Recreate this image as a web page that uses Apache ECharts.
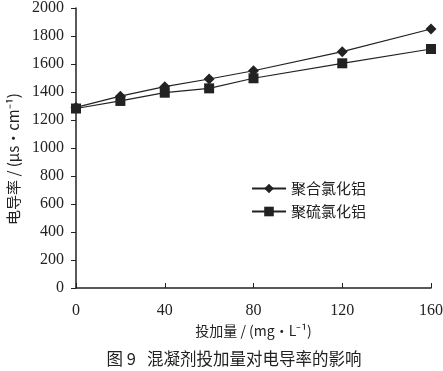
<!DOCTYPE html>
<html><head><meta charset="utf-8">
<script src="https://cdn.jsdelivr.net/npm/echarts@6/dist/echarts.min.js"></script>
<style>html,body{margin:0;padding:0;background:#fff}#c{width:443px;height:371px}</style>
</head><body><div id="c"></div>
<script>
var dosage = [0, 20, 40, 60, 80, 120, 160];
var pac = [1290, 1370, 1438, 1493, 1552, 1688, 1850];
var pfs = [1282, 1336, 1395, 1426, 1498, 1605, 1707];
var names = ['聚合氯化铝', '聚硫氯化铝'];
var chart = echarts.init(document.getElementById('c'));
var serif = 'Liberation Serif';
var cjk = 'Noto Sans CJK SC';
chart.setOption({
  animation: false,
  backgroundColor: '#fff',
  grid: {left: 76, right: 12, top: 8, bottom: 83, outerBoundsMode: 'none', containLabel: false},
  title: {text: '图 9   混凝剂投加量对电导率的影响', left: 229, textAlign: 'center', top: 345,
    textStyle: {fontFamily: cjk, fontSize: 16.5, fontWeight: 'normal', color: '#222'}},
  legend: {
    orient: 'vertical', left: 246, top: 176, itemGap: 8, itemWidth: 34, itemHeight: 12,
    data: names,
    textStyle: {fontFamily: cjk, fontSize: 15, color: '#222'}
  },
  xAxis: {
    type: 'value', min: 0, max: 160, interval: 40,
    name: '投加量 / (mg·L⁻¹)', nameLocation: 'middle', nameGap: 36,
    nameTextStyle: {fontFamily: cjk, fontSize: 14, color: '#222'},
    axisLine: {lineStyle: {color: '#222', width: 1.5}},
    axisTick: {inside: true, length: 5, lineStyle: {color: '#222'}},
    axisLabel: {fontFamily: serif, fontSize: 16, color: '#222', margin: 15},
    splitLine: {show: false}
  },
  yAxis: {
    type: 'value', min: 0, max: 2000, interval: 200,
    name: '电导率 / (μs·cm⁻¹)', nameLocation: 'middle', nameGap: 54, nameRotate: 90,
    nameTextStyle: {fontFamily: cjk, fontSize: 15, color: '#222', padding: [0, 22, 0, 0]},
    axisLine: {show: true, lineStyle: {color: '#222', width: 1.5}},
    axisTick: {show: true, length: 5, lineStyle: {color: '#222'}},
    axisLabel: {fontFamily: serif, fontSize: 16, color: '#222', margin: 12,
      formatter: function(v){ return String(v); }},
    splitLine: {show: false}
  },
  series: [
    {name: names[0], type: 'line', symbol: 'diamond', symbolSize: 11,
     data: dosage.map(function(d, i){return [d, pac[i]];}),
     lineStyle: {color: '#222', width: 1.2}, itemStyle: {color: '#222'}},
    {name: names[1], type: 'line', symbol: 'rect', symbolSize: 10,
     data: dosage.map(function(d, i){return [d, pfs[i]];}),
     lineStyle: {color: '#222', width: 1.2}, itemStyle: {color: '#222'}}
  ]
});
</script></body></html>
